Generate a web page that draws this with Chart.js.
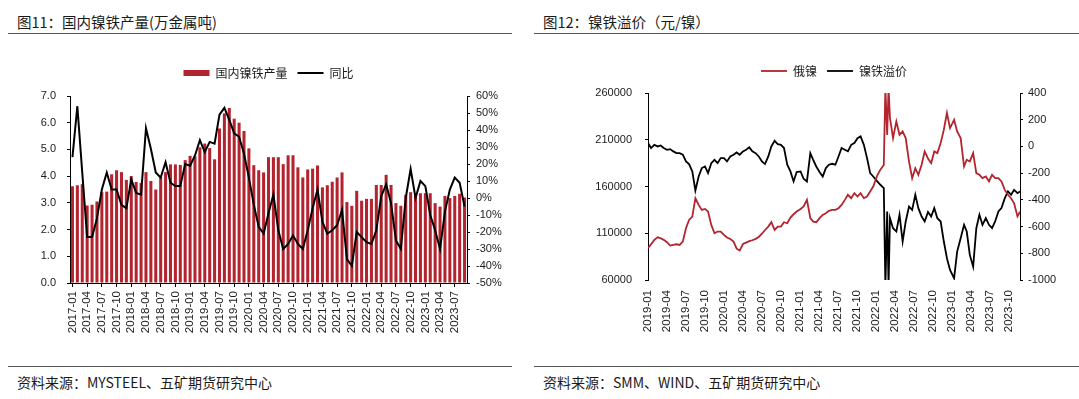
<!DOCTYPE html>
<html>
<head>
<meta charset="utf-8">
<script src="https://cdn.jsdelivr.net/npm/chart.js@4.4.1/dist/chart.umd.min.js"></script>
<style>
body{margin:0;background:#fff;width:1079px;height:399px;position:relative;overflow:hidden;font-family:"Noto Sans CJK SC",sans-serif;color:#1a1a1a}
.t{position:absolute;top:15px;font-size:14.5px;line-height:14px;white-space:nowrap}
.s{position:absolute;top:375px;font-size:14px;line-height:14px;white-space:nowrap}
.r{position:absolute;height:0;border-top:1px solid #555}
canvas{position:absolute;top:40px}
</style>
</head>
<body>
<div class="t" style="left:17px">图11：国内镍铁产量(万金属吨)</div>
<div class="t" style="left:543px">图12：镍铁溢价（元/镍）</div>
<div class="r" style="left:8px;width:504px;top:33px"></div>
<div class="r" style="left:534px;width:545px;top:33px"></div>
<canvas id="c1" width="530" height="310" style="left:0"></canvas>
<canvas id="c2" width="539" height="310" style="left:540px"></canvas>
<div class="r" style="left:8px;width:504px;top:366px"></div>
<div class="r" style="left:534px;width:545px;top:366px"></div>
<div class="s" style="left:17px">资料来源：MYSTEEL、五矿期货研究中心</div>
<div class="s" style="left:543px">资料来源：SMM、WIND、五矿期货研究中心</div>
<script>
// 图11 国内镍铁产量，2017-01 ~ 2023-09，万金属吨
const nifeOutput = [
  3.62,3.66,3.70,2.90,2.93,3.05,3.40,3.42,4.07,4.22,4.15,3.86,
  4.00,3.78,3.75,4.15,3.82,3.50,3.95,4.15,4.44,4.44,4.42,4.60,
  4.76,4.74,5.08,5.22,5.05,4.63,5.78,6.35,6.55,6.15,6.00,5.69,
  5.04,4.41,4.22,4.14,4.71,4.71,4.71,4.45,4.78,4.78,4.33,3.95,
  4.25,4.28,4.40,3.58,3.66,3.79,3.95,4.14,3.03,2.89,3.45,3.08,
  3.15,3.15,3.67,3.67,4.05,3.67,2.99,2.89,3.30,3.40,3.35,3.36,
  3.36,3.36,2.99,2.86,3.26,3.18,3.26,3.34,3.20
];
// 同比, %
const nifeYoY = [
  24,54,15,-23,-23,-12,5,15,5,5,-4,-6,
  11,3,2,41,29,15,12,21,9,7,7,20,
  19,25,34,27,33,32,49,53,46,38,36,26,
  12,-4,-17,-21,-9,2,-19,-30,-27,-22,-27,-30,
  -19,-6,5,-14,-21,-19,-16,-7,-36,-40,-20,-23,
  -26,-27,-19,1,8,-3,-25,-30,0,17,0,10,
  7,-10,-19,-30,-8,5,12,9,-5
];

// 图12 俄镍（元/吨）与镍铁溢价（元/镍）
const nickelDates = [
  '2019-01-01','2019-01-16','2019-02-01','2019-02-16','2019-03-01','2019-03-16','2019-04-01','2019-04-16',
  '2019-05-01','2019-05-16','2019-06-01','2019-06-16','2019-07-01','2019-07-16','2019-08-01','2019-08-16',
  '2019-09-01','2019-09-16','2019-10-01','2019-10-16','2019-11-01','2019-11-16','2019-12-01','2019-12-16',
  '2020-01-01','2020-01-16','2020-02-01','2020-02-16','2020-03-01','2020-03-16','2020-04-01','2020-04-16',
  '2020-05-01','2020-05-16','2020-06-01','2020-06-16','2020-07-01','2020-07-16','2020-08-01','2020-08-16',
  '2020-09-01','2020-09-16','2020-10-01','2020-10-16','2020-11-01','2020-11-16','2020-12-01','2020-12-16',
  '2021-01-04','2021-01-19','2021-02-04','2021-02-19','2021-03-04','2021-03-19','2021-04-04','2021-04-19',
  '2021-05-04','2021-05-19','2021-06-04','2021-06-19','2021-07-04','2021-07-19','2021-08-04','2021-08-19',
  '2021-09-04','2021-09-19','2021-10-04','2021-10-19','2021-11-04','2021-11-19','2021-12-04','2021-12-19',
  '2022-01-08','2022-01-23','2022-02-08','2022-02-15','2022-02-23','2022-03-01','2022-03-08','2022-03-23',
  '2022-04-08','2022-04-23','2022-05-08','2022-05-23','2022-06-08','2022-06-23','2022-07-08','2022-07-23',
  '2022-08-08','2022-08-23','2022-09-08','2022-09-23','2022-10-08','2022-10-23','2022-11-08','2022-11-23',
  '2022-12-08','2022-12-23',
  '2023-01-12','2023-01-27','2023-02-12','2023-02-27','2023-03-12','2023-03-27','2023-04-12','2023-04-27',
  '2023-05-12','2023-05-27','2023-06-12','2023-06-27','2023-07-12','2023-07-27','2023-08-12','2023-08-27',
  '2023-09-12','2023-09-27','2023-10-12','2023-10-27','2023-11-12','2023-11-24'
];
const russianNickel = [
  93900,98200,102900,105700,104600,102900,100400,96800,97500,98200,97500,101000,
  115300,124300,127800,147500,140300,135000,136000,133200,118900,110000,111800,111800,
  108200,105400,103900,101000,93500,91500,98500,100000,101500,102500,104000,106000,
  109500,113500,117100,121800,113600,117100,117100,121800,120700,126800,130300,133200,
  136000,138600,145700,126100,122500,121800,126100,129600,131400,133900,135000,135000,
  136800,140300,145700,151100,147500,152900,149300,152900,147500,149300,154600,160000,
  172000,178000,183000,265000,215000,265000,233200,211800,229600,215300,218900,211800,
  186800,168900,179600,172500,183200,197500,190000,185000,197500,195700,206400,220700,
  238600,222500,
  231400,218900,211800,181400,188600,186800,195700,174300,172500,168900,170700,165400,
  172500,168900,168900,165400,156400,151100,147500,142100,128000,133000
];
const nifePremium = [
  25,-12,12,0,7,-12,-25,-20,-37,-50,-50,-62,
  -112,-132,-187,-330,-225,-162,-150,-200,-125,-100,-125,-87,
  -87,-112,-75,-62,-45,-62,-37,-25,-7,-37,-50,-75,
  -112,-132,-75,0,42,17,12,-12,-137,-187,-262,-192,
  -187,-242,-262,-50,-100,-150,-192,-225,-162,-137,-130,-137,
  -75,-12,-25,-37,12,25,62,75,12,-87,-200,-225,
  -262,-287,-312,-1050,-487,-1050,-537,-612,-637,-512,-712,-562,
  -450,-475,-362,-462,-525,-562,-490,-525,-462,-537,-562,-712,
  -837,-925,
  -987,-787,-687,-587,-637,-812,-900,-612,-512,-587,-537,-587,
  -612,-562,-487,-462,-387,-337,-362,-325,-350,-337
];
const nickelTickMonths = [0,3,6,9,12,15,18,21,24,27,30,33,36,39,42,45,48,51,54,57];

const RED = '#b3242e';
const CJK = '"Noto Sans CJK SC", sans-serif';
const TICK_FONT = {family: '"Liberation Sans", Arial, sans-serif', size: 11};
const XTICK_FONT = {family: '"Liberation Sans", Arial, sans-serif', size: 11.5};
const INK = '#1a1a1a';

const prodMonths = [];
for (let y = 2017; y <= 2023; y++) {
  for (let m = 1; m <= 12; m++) {
    if (y < 2023 || m <= 9) prodMonths.push(y + '-' + String(m).padStart(2, '0'));
  }
}

function monthPos(d) {
  const p = d.split('-').map(Number);
  const dim = new Date(p[0], p[1], 0).getDate();
  return (p[0] - 2019) * 12 + (p[1] - 1) + (p[2] - 1) / dim;
}

// legend: fixed height, centred over the plot area
function legendBox(h) {
  return {
    id: 'legendBox',
    afterInit(chart) {
      const fit = chart.legend.fit;
      chart.legend.fit = function() { fit.call(this); this.height = h; };
    },
    afterLayout(chart) {
      chart.legend.left = chart.chartArea.left;
      chart.legend.right = chart.chartArea.right;
    }
  };
}

function legendOpts() {
  return {
    labels: {
      usePointStyle: true, pointStyleWidth: 26, boxHeight: 6,
      font: {family: CJK, size: 12}, color: INK, padding: 10,
      sort: (a, b) => a.datasetIndex - b.datasetIndex
    }
  };
}

new Chart(document.getElementById('c1'), {
  type: 'bar',
  data: {
    labels: prodMonths,
    datasets: [
      {type: 'bar', label: '国内镍铁产量', data: nifeOutput, backgroundColor: RED, borderWidth: 0,
       barPercentage: 0.62, categoryPercentage: 1, yAxisID: 'y', order: 2, pointStyle: 'rect'},
      {type: 'line', label: '同比', data: nifeYoY, borderColor: '#000', backgroundColor: '#000',
       borderWidth: 2, pointRadius: 0, tension: 0, yAxisID: 'y1', order: 1, pointStyle: 'line'}
    ]
  },
  options: {
    responsive: false,
    animation: false,
    layout: {padding: {top: 17, left: 0, right: 0, bottom: 0}},
    plugins: {legend: legendOpts(), tooltip: {enabled: false}},
    scales: {
      x: {
        grid: {drawOnChartArea: false, offset: false, tickLength: 4, color: '#000'},
        border: {color: '#000'},
        ticks: {
          autoSkip: false, minRotation: 90, maxRotation: 90, padding: 4, font: XTICK_FONT, color: INK,
          callback: function(v, i) { return i % 3 === 0 ? this.getLabelForValue(v) : null; }
        },
        afterFit(s) { s.height = 67; }
      },
      y: {
        position: 'left', min: 0, max: 7,
        ticks: {stepSize: 1, padding: 11, font: TICK_FONT, color: INK, callback: v => v.toFixed(1)},
        grid: {drawOnChartArea: false, tickLength: 3, color: '#000'},
        border: {color: '#000'},
        afterFit(s) { s.width = 70; }
      },
      y1: {
        position: 'right', min: -50, max: 60,
        ticks: {stepSize: 10, padding: 6, font: TICK_FONT, color: INK, callback: v => v + '%'},
        grid: {drawOnChartArea: false, tickLength: 3, color: '#000'},
        border: {color: '#000'},
        afterFit(s) { s.width = 63; }
      }
    }
  },
  plugins: [legendBox(39)]
});

const xs = nickelDates.map(monthPos);
new Chart(document.getElementById('c2'), {
  type: 'line',
  data: {
    datasets: [
      {label: '俄镍', data: xs.map((x, i) => ({x: x, y: russianNickel[i]})), borderColor: RED,
       backgroundColor: RED, borderWidth: 1.8, pointRadius: 0, tension: 0, yAxisID: 'y', pointStyle: 'line'},
      {label: '镍铁溢价', data: xs.map((x, i) => ({x: x, y: nifePremium[i]})), borderColor: '#000',
       backgroundColor: '#000', borderWidth: 1.8, pointRadius: 0, tension: 0, yAxisID: 'y1', pointStyle: 'line'}
    ]
  },
  options: {
    responsive: false,
    animation: false,
    layout: {padding: {top: 15, left: 0, right: 0, bottom: 0}},
    plugins: {legend: legendOpts(), tooltip: {enabled: false}},
    scales: {
      x: {
        type: 'linear', min: 0, max: xs[xs.length - 1],
        afterBuildTicks(s) { s.ticks = nickelTickMonths.map(v => ({value: v})); },
        ticks: {
          autoSkip: false, minRotation: 90, maxRotation: 90, padding: 10, font: XTICK_FONT, color: INK,
          callback: v => (2019 + Math.floor(v / 12)) + '-' + String(v % 12 + 1).padStart(2, '0')
        },
        grid: {display: false, drawTicks: false},
        border: {display: false},
        afterFit(s) { s.height = 70; }
      },
      y: {
        position: 'left', min: 60000, max: 260000,
        ticks: {stepSize: 50000, padding: 13, font: TICK_FONT, color: INK, callback: v => String(v)},
        grid: {drawOnChartArea: false, tickLength: 3, color: '#000'},
        border: {color: '#000'},
        afterFit(s) { s.width = 108; }
      },
      y1: {
        position: 'right', min: -1000, max: 400,
        ticks: {stepSize: 200, padding: 5, font: TICK_FONT, color: INK, callback: v => String(v)},
        grid: {drawOnChartArea: false, tickLength: 3, color: '#000'},
        border: {color: '#000'},
        afterFit(s) { s.width = 59; }
      }
    }
  },
  plugins: [legendBox(38)]
});
</script>
</body>
</html>
